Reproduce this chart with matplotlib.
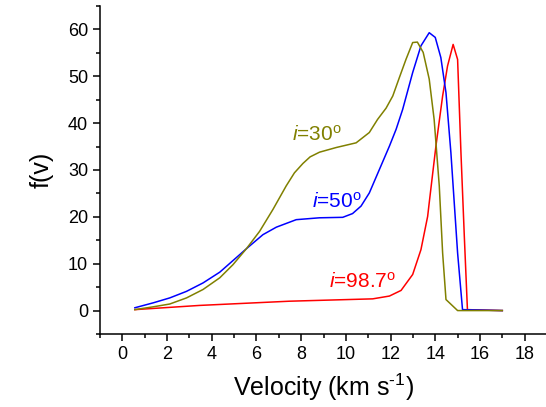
import matplotlib
matplotlib.use('Agg')
import matplotlib.pyplot as plt
from matplotlib.ticker import MultipleLocator

plt.rcParams['font.family'] = 'Liberation Sans'
plt.rcParams['mathtext.fontset'] = 'custom'
plt.rcParams['mathtext.rm'] = 'Liberation Sans'
plt.rcParams['mathtext.it'] = 'Liberation Sans:italic'

# i = 30 deg
v30 = [0.56, 1.38, 2.12, 2.87, 3.61, 4.36, 4.95, 5.55, 6.14, 6.74, 7.33, 7.7, 8.08, 8.4,
       8.82, 9.57, 10.46, 11.05, 11.42, 11.8, 12.1, 12.4, 12.69, 12.99, 13.2, 13.46,
       13.73, 13.95, 14.18, 14.33, 14.48, 15.0, 17.0]
f30 = [0.2, 0.8, 1.4, 2.7, 4.5, 7.0, 9.8, 13.2, 16.9, 21.6, 26.6, 29.4, 31.4, 32.8,
       33.8, 34.8, 35.8, 38.0, 40.8, 43.2, 45.8, 49.8, 53.6, 57.2, 57.3, 55.1,
       49.4, 40.8, 26.6, 12.3, 2.35, 0.0, 0.0]

# i = 50 deg
v50 = [0.56, 1.38, 2.12, 2.87, 3.61, 4.36, 5.1, 5.55, 6.29, 6.89, 7.78, 8.82, 9.86,
       10.3, 10.68, 11.05, 11.5, 11.95, 12.25, 12.54, 12.99, 13.36, 13.73, 14.0, 14.25,
       14.48, 14.7, 14.85, 15.0, 15.22, 17.0]
f50 = [0.6, 1.65, 2.7, 4.1, 5.9, 8.2, 11.3, 13.2, 16.2, 17.8, 19.4, 19.8, 19.9,
       20.7, 22.3, 25.1, 30.1, 35.1, 38.7, 42.9, 50.8, 56.5, 59.3, 58.3, 54.0,
       46.5, 33.7, 23.0, 12.3, 0.2, 0.0]

# i = 98.7 deg
v98 = [0.56, 3.46, 7.48, 11.2, 11.95, 12.47, 12.99, 13.36, 13.66, 13.73, 14.03, 14.33,
       14.55, 14.8, 15.0, 15.15, 15.3, 15.44, 17.0]
f98 = [0.2, 1.1, 2.0, 2.5, 3.1, 4.3, 7.7, 13.0, 20.1, 23.0, 35.1, 45.8,
       52.2, 56.8, 53.6, 33.7, 15.9, 0.2, 0.0]

fig = plt.figure(figsize=(5.46, 4.07), dpi=100)
ax = fig.add_axes([100 / 546, 73 / 407, 447 / 546, 328 / 407])

ax.plot(v98, f98, color='#ff0000', lw=1.1)
ax.plot(v50, f50, color='#0000ff', lw=1.1)
ax.plot(v30, f30, color='#808000', lw=1.1)

ax.text(7.6, 36.2, r'$i$=30$^{\rm o}$', color='#808000', fontsize=15)
ax.text(8.5, 22.0, r'$i$=50$^{\rm o}$', color='#0000ff', fontsize=15)
ax.text(9.25, 4.9, r'$i$=98.7$^{\rm o}$', color='#ff0000', fontsize=15)

ax.set_xlim(-1, 19)
ax.set_ylim(-5, 65)
ax.xaxis.set_major_locator(MultipleLocator(2))
ax.xaxis.set_minor_locator(MultipleLocator(1))
ax.yaxis.set_major_locator(MultipleLocator(10))
ax.yaxis.set_minor_locator(MultipleLocator(5))
ax.tick_params(which='both', direction='out', width=1.1, labelsize=13)
ax.tick_params(which='major', length=5)
ax.tick_params(which='minor', length=3)

for s in ['top', 'right']:
    ax.spines[s].set_visible(False)
for s in ['left', 'bottom']:
    ax.spines[s].set_linewidth(1.1)

ax.set_xlabel(r'Velocity (km s$^{\text{-}1}$)', fontsize=18, labelpad=6)
ax.set_ylabel('f(v)', fontsize=18, labelpad=10)

fig.savefig('out.png', dpi=100)
